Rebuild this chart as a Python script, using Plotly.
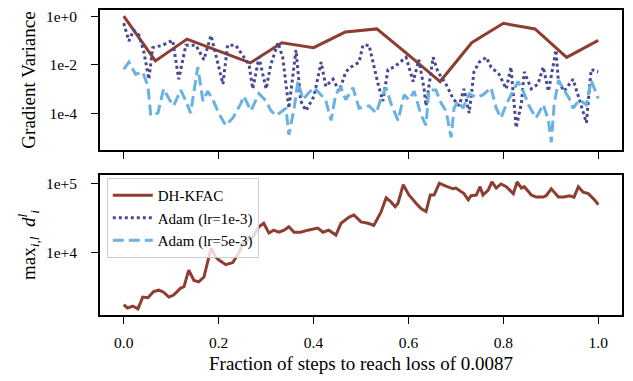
import numpy as np
import plotly.graph_objects as go
from plotly.subplots import make_subplots

# ---------------- data ----------------
# DH-KFAC gradient variance (log10 values), evaluated at 16 checkpoints
kfac_x = [0.0, 0.0667, 0.1333, 0.2, 0.2667, 0.3333, 0.4, 0.4667, 0.5333, 0.6,
          0.6667, 0.7333, 0.8, 0.8667, 0.9333, 1.0]
kfac_var_log10 = [0.0, -1.85, -0.95, -1.45, -1.93, -1.1, -1.3, -0.66, -0.53, -1.6,
                  -2.7, -1.1, -0.3, -0.53, -1.7, -1.0]

# Adam (lr=1e-3) gradient variance (log10)
adam1_x = [0.000, 0.011, 0.021, 0.032, 0.042, 0.053, 0.061, 0.082, 0.103, 0.116,
           0.131, 0.152, 0.169, 0.184, 0.194, 0.209, 0.219, 0.236, 0.264, 0.272,
           0.285, 0.300, 0.310, 0.325, 0.335, 0.348, 0.363, 0.373, 0.384, 0.401,
           0.416, 0.426, 0.441, 0.454, 0.468, 0.479, 0.496, 0.504, 0.517, 0.536,
           0.546, 0.557, 0.570, 0.595, 0.610, 0.622, 0.633, 0.637, 0.652, 0.662,
           0.679, 0.694, 0.707, 0.717, 0.728, 0.738, 0.749, 0.764, 0.774, 0.791,
           0.806, 0.816, 0.827, 0.838, 0.844, 0.859, 0.873, 0.884, 0.895, 0.911,
           0.916, 0.928, 0.947, 0.960, 0.975, 0.985, 1.000]
adam1_var_log10 = [-0.29, -1.03, -0.58, -0.78, -1.44, -2.6, -1.3, -1.2, -1.0, -2.6,
                   -1.2, -1.2, -1.8, -0.8, -1.6, -2.8, -1.2, -1.2, -2.0, -3.0,
                   -1.7, -3.0, -2.0, -1.1, -1.7, -3.8, -1.4, -3.5, -3.9, -3.3,
                   -1.9, -2.9, -2.6, -3.1, -2.3, -2.1, -1.9, -1.2, -1.2, -2.8,
                   -3.5, -2.2, -2.1, -1.7, -2.7, -1.8, -3.0, -3.7, -1.7, -2.3,
                   -2.8, -3.4, -3.7, -3.0, -4.0, -2.3, -1.9, -1.7, -2.1, -2.4,
                   -3.0, -2.1, -4.6, -3.6, -2.3, -3.0, -2.8, -2.1, -3.1, -1.4,
                   -2.7, -3.1, -2.6, -3.4, -4.4, -2.2, -2.3]

# Adam (lr=5e-3) gradient variance (log10)
adam5_x = [0.000, 0.011, 0.025, 0.040, 0.051, 0.057, 0.072, 0.084, 0.095, 0.105,
           0.120, 0.131, 0.141, 0.156, 0.167, 0.177, 0.188, 0.200, 0.215, 0.230,
           0.247, 0.253, 0.268, 0.285, 0.300, 0.310, 0.321, 0.342, 0.348, 0.359,
           0.367, 0.378, 0.388, 0.401, 0.416, 0.426, 0.437, 0.447, 0.458, 0.468,
           0.483, 0.496, 0.517, 0.532, 0.542, 0.553, 0.563, 0.578, 0.591, 0.601,
           0.612, 0.627, 0.637, 0.643, 0.658, 0.669, 0.679, 0.690, 0.696, 0.705,
           0.715, 0.728, 0.743, 0.757, 0.774, 0.785, 0.795, 0.806, 0.816, 0.831,
           0.842, 0.854, 0.869, 0.884, 0.895, 0.901, 0.907, 0.916, 0.928, 0.939,
           0.947, 0.960, 0.975, 0.985, 1.000]
adam5_var_log10 = [-2.2, -1.9, -2.4, -2.3, -2.9, -4.1, -4.0, -3.0, -3.4, -3.7,
                   -3.05, -3.5, -4.0, -2.1, -3.5, -3.1, -3.45, -4.0, -4.5, -4.2,
                   -3.6, -3.3, -3.9, -3.2, -3.5, -3.9, -4.1, -3.8, -4.9, -3.8,
                   -2.7, -3.45, -3.2, -2.95, -3.25, -3.5, -4.3, -3.2, -2.95, -3.45,
                   -2.95, -3.8, -3.7, -4.0, -3.4, -2.95, -3.6, -4.3, -3.25, -3.45,
                   -3.1, -4.1, -4.5, -3.05, -3.05, -3.6, -3.9, -5.0, -3.8, -3.5,
                   -3.8, -3.2, -3.35, -3.25, -2.95, -3.8, -4.2, -3.65, -3.25, -2.7,
                   -3.1, -3.7, -4.2, -3.65, -4.3, -5.2, -3.65, -2.65, -3.05, -3.4,
                   -3.8, -3.45, -3.65, -2.65, -3.4]

# DH-KFAC max_{i,l} d_i^l (log10)
maxd_x = [0.000, 0.008, 0.019, 0.030, 0.040, 0.051, 0.063, 0.074, 0.084, 0.095,
          0.105, 0.120, 0.127, 0.137, 0.148, 0.158, 0.169, 0.184, 0.194, 0.200,
          0.215, 0.230, 0.243, 0.253, 0.272, 0.285, 0.295, 0.306, 0.316, 0.327,
          0.338, 0.348, 0.359, 0.373, 0.388, 0.409, 0.420, 0.432, 0.447, 0.458,
          0.475, 0.485, 0.500, 0.515, 0.527, 0.542, 0.553, 0.563, 0.572, 0.578,
          0.589, 0.601, 0.616, 0.627, 0.637, 0.646, 0.654, 0.665, 0.679, 0.694,
          0.700, 0.711, 0.717, 0.726, 0.732, 0.743, 0.751, 0.757, 0.768, 0.776,
          0.785, 0.795, 0.806, 0.821, 0.829, 0.838, 0.844, 0.859, 0.869, 0.884,
          0.890, 0.901, 0.916, 0.928, 0.939, 0.949, 0.958, 0.968, 0.979, 0.992,
          1.000]
maxd_log10 = [3.25, 3.2, 3.23, 3.19, 3.36, 3.35, 3.44, 3.46, 3.43, 3.36,
              3.39, 3.49, 3.51, 3.75, 3.6, 3.58, 3.65, 4.07, 3.94, 3.9,
              3.83, 3.86, 4.01, 4.16, 4.23, 4.38, 4.43, 4.29, 4.33, 4.3,
              4.33, 4.38, 4.3, 4.3, 4.33, 4.36, 4.3, 4.33, 4.26, 4.43,
              4.52, 4.55, 4.45, 4.43, 4.4, 4.59, 4.8, 4.74, 4.67, 4.72,
              4.99, 4.84, 4.72, 4.64, 4.6, 4.84, 4.84, 5.01, 4.97, 4.93,
              4.94, 4.88, 4.86, 4.77, 4.83, 4.84, 4.96, 4.84, 4.91, 5.03,
              4.94, 5.0, 4.96, 4.86, 5.03, 4.94, 4.96, 4.84, 4.81, 4.81,
              4.83, 4.93, 4.81, 4.81, 4.83, 4.81, 4.96, 4.88, 4.86, 4.77,
              4.70]

x_tick_vals = [0.0, 0.2, 0.4, 0.6, 0.8, 1.0]
x_tick_text = ["0.0", "0.2", "0.4", "0.6", "0.8", "1.0"]
var_tick_vals = [1.0, 1e-2, 1e-4]
var_tick_text = ["1e+0", "1e-2", "1e-4"]
maxd_tick_vals = [1e4, 1e5]
maxd_tick_text = ["1e+4", "1e+5"]

series_names = ["DH-KFAC", "Adam (lr=1e-3)", "Adam (lr=5e-3)"]

# ---------------- styles ----------------
C_KFAC = "#8d3d31"
C_ADAM1 = "#474a92"
C_ADAM5 = "#69b2e2"
FONT = "Liberation Serif"
DOT = "3px,3px"
DASH = "11px,5px"

fig = make_subplots(rows=2, cols=1, shared_xaxes=True, vertical_spacing=0.082)

to_val = lambda arr: (10.0 ** np.array(arr)).tolist()

fig.add_trace(go.Scatter(x=kfac_x, y=to_val(kfac_var_log10), mode="lines",
                         line=dict(color=C_KFAC, width=3), showlegend=False), row=1, col=1)
fig.add_trace(go.Scatter(x=adam1_x, y=to_val(adam1_var_log10), mode="lines",
                         line=dict(color=C_ADAM1, width=3, dash=DOT),
                         showlegend=False), row=1, col=1)
fig.add_trace(go.Scatter(x=adam5_x, y=to_val(adam5_var_log10), mode="lines",
                         line=dict(color=C_ADAM5, width=3, dash=DASH),
                         showlegend=False), row=1, col=1)

fig.add_trace(go.Scatter(x=maxd_x, y=to_val(maxd_log10), mode="lines", name=series_names[0],
                         line=dict(color=C_KFAC, width=3)), row=2, col=1)
# legend-only entries for Adam runs
fig.add_trace(go.Scatter(x=[None], y=[None], mode="lines", name=series_names[1],
                         line=dict(color=C_ADAM1, width=3, dash=DOT)), row=2, col=1)
fig.add_trace(go.Scatter(x=[None], y=[None], mode="lines", name=series_names[2],
                         line=dict(color=C_ADAM5, width=3, dash=DASH)), row=2, col=1)

axis_common = dict(showline=True, linecolor="black", linewidth=1.6, mirror=True,
                   ticks="outside", ticklen=7, tickwidth=1.4, tickcolor="black",
                   showgrid=False, zeroline=False, automargin=False,
                   tickfont=dict(family=FONT, size=15.5, color="black"))

fig.update_xaxes(range=[-0.05, 1.05], tickvals=x_tick_vals, ticktext=x_tick_text,
                 ticklabelstandoff=6, **axis_common)
fig.update_xaxes(showticklabels=False, row=1, col=1)
fig.update_xaxes(title=dict(text="Fraction of steps to reach loss of 0.0087",
                            font=dict(family=FONT, size=19, color="black"), standoff=6),
                 row=2, col=1)

fig.update_yaxes(type="log", range=[-5.52, 0.25], tickvals=var_tick_vals, ticktext=var_tick_text,
                 ticklabelstandoff=11,
                 title=dict(text="Gradient Variance", font=dict(family=FONT, size=19, color="black"),
                            standoff=5),
                 row=1, col=1, **axis_common)
fig.update_yaxes(type="log", range=[3.10, 5.13], tickvals=maxd_tick_vals, ticktext=maxd_tick_text,
                 ticklabelstandoff=11,
                 title=dict(text="max<sub><i>i,l</i></sub>  <i>d</i><sup><i>l</i></sup><sub><i>i</i></sub>",
                            font=dict(family=FONT, size=19, color="black"), standoff=5),
                 row=2, col=1, **axis_common)

fig.update_layout(
    width=633, height=381,
    margin=dict(l=100, r=11, t=10, b=66),
    paper_bgcolor="white", plot_bgcolor="white",
    font=dict(family=FONT, size=15, color="black"),
    legend=dict(x=0.013, y=0.449, xanchor="left", yanchor="top",
                bgcolor="rgba(255,255,255,0.8)", bordercolor="#cccccc", borderwidth=1,
                font=dict(family=FONT, size=15, color="black"),
                tracegroupgap=0, itemwidth=40),
)

fig.write_html("out.html", config={"displayModeBar": False},
               post_script="document.body.style.margin='0';document.body.style.padding='0';"
                           "document.body.style.overflow='hidden';")
